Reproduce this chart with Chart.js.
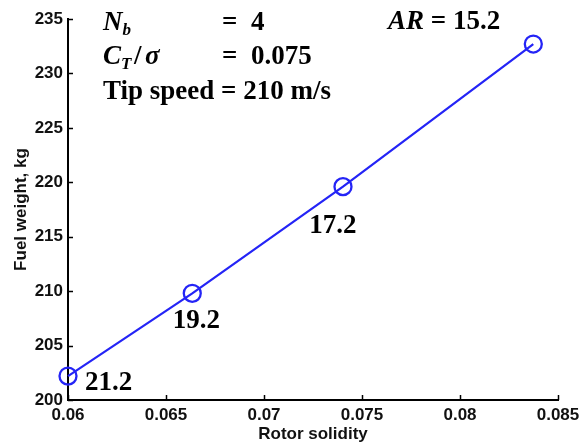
<!DOCTYPE html>
<html>
<head>
<meta charset="utf-8">
<script src="https://cdn.jsdelivr.net/npm/chart.js@4.4.1/dist/chart.umd.min.js"></script>
<style>
  html, body { margin: 0; padding: 0; background: #fff; }
</style>
</head>
<body>
<canvas id="chart" width="581" height="444"></canvas>
<script>
// values
const solidity = [0.06, 0.06634, 0.07403, 0.08374];
const fuelWeight = [202.2, 209.8, 219.6, 232.7];
const aspectRatio = ['21.2', '19.2', '17.2', '15.2'];
const ticksX = [0.06, 0.065, 0.07, 0.075, 0.08, 0.085];
const ticksY = [200, 205, 210, 215, 220, 225, 230, 235];
const numBlades = '4';
const ctSigma = '0.075';
const tipSpeed = '210 m/s';

const sans = '"Liberation Sans", Arial, Helvetica, sans-serif';
const serif = '"Liberation Serif", "Times New Roman", serif';
const blue = '#2424f6';

// inward ticks + text notes
const notes = {
  id: 'notes',
  afterDatasetsDraw(chart) {
    const { ctx, chartArea: a, scales: { x, y } } = chart;
    ctx.save();
    ctx.strokeStyle = '#000';
    ctx.lineWidth = 1.5;
    ctx.beginPath();
    ticksX.forEach(v => {
      const px = Math.round(x.getPixelForValue(v)) + 0.5;
      ctx.moveTo(px, a.bottom);
      ctx.lineTo(px, a.bottom - 5);
    });
    ticksY.forEach(v => {
      const py = Math.round(y.getPixelForValue(v)) + 0.5;
      ctx.moveTo(a.left, py);
      ctx.lineTo(a.left + 5, py);
    });
    ctx.stroke();

    ctx.fillStyle = '#000';
    ctx.textBaseline = 'alphabetic';
    const big = 'bold 27px ' + serif;
    const bigIt = 'italic bold 27px ' + serif;
    const sub = 'italic bold 17px ' + serif;

    // aspect ratio next to each point (last one goes in the header)
    const offs = [[17, 14, 'left'], [4, 35, 'center'], [-10, 46, 'center']];
    ctx.font = big;
    offs.forEach((o, i) => {
      ctx.textAlign = o[2];
      ctx.fillText(aspectRatio[i], x.getPixelForValue(solidity[i]) + o[0], y.getPixelForValue(fuelWeight[i]) + o[1]);
    });

    ctx.textAlign = 'left';
    // N_b
    ctx.font = bigIt;
    ctx.fillText('N', 103, 30);
    let w = ctx.measureText('N').width;
    ctx.font = sub;
    ctx.fillText('b', 103 + w, 35);
    ctx.font = big;
    ctx.fillText('=', 222, 30);
    ctx.fillText(numBlades, 251, 30);

    // C_T / sigma
    ctx.font = bigIt;
    ctx.fillText('C', 103, 64);
    w = ctx.measureText('C').width;
    ctx.font = sub;
    ctx.fillText('T', 103 + w, 69);
    ctx.font = big;
    ctx.fillText('/', 134, 64);
    ctx.font = bigIt;
    ctx.fillText('σ', 145, 64);
    ctx.font = big;
    ctx.fillText('=', 222, 64);
    ctx.fillText(ctSigma, 251, 64);

    // tip speed
    ctx.fillText('Tip speed = ' + tipSpeed, 103, 99);

    // AR of the last point
    ctx.font = bigIt;
    ctx.fillText('AR', 388, 29);
    w = ctx.measureText('AR').width;
    ctx.font = big;
    ctx.fillText(' = ' + aspectRatio[3], 388 + w, 29);
    ctx.restore();
  }
};

const chart = new Chart(document.getElementById('chart'), {
  type: 'scatter',
  data: {
    datasets: [{
      data: solidity.map((s, i) => ({ x: s, y: fuelWeight[i] })),
      showLine: true,
      borderColor: blue,
      borderWidth: 2.2,
      pointRadius: 8.5,
      pointHoverRadius: 8.5,
      pointBorderWidth: 2.3,
      pointBackgroundColor: 'rgba(0,0,0,0)',
      pointBorderColor: blue,
      clip: false
    }]
  },
  options: {
    responsive: false,
    animation: false,
    events: [],
    layout: { padding: { top: 19, right: 23, left: 0, bottom: 0 } },
    plugins: { legend: { display: false }, tooltip: { enabled: false } },
    scales: {
      x: {
        type: 'linear',
        min: 0.06,
        max: 0.085,
        afterBuildTicks: s => { s.ticks = ticksX.map(v => ({ value: v })); },
        afterFit: s => { s.height = 44; s.paddingLeft = 0; s.paddingRight = 0; },
        grid: { drawOnChartArea: false, drawTicks: false },
        border: { display: true, color: '#000', width: 2 },
        ticks: {
          color: '#111',
          padding: 5,
          maxRotation: 0,
          font: { family: sans, size: 17, weight: 'bold' },
          callback: v => String(v)
        },
        title: {
          display: true,
          text: 'Rotor solidity',
          color: '#111',
          font: { family: sans, size: 17, weight: 'bold' },
          padding: { top: 0, bottom: -1 }
        }
      },
      y: {
        min: 200,
        max: 235,
        afterBuildTicks: s => { s.ticks = ticksY.map(v => ({ value: v })); },
        afterFit: s => { s.width = 68; s.paddingTop = 0; s.paddingBottom = 0; },
        grid: { drawOnChartArea: false, drawTicks: false },
        border: { display: true, color: '#000', width: 2 },
        ticks: {
          color: '#111',
          padding: 5,
          font: { family: sans, size: 17, weight: 'bold' },
          callback: v => String(v)
        },
        title: {
          display: true,
          text: 'Fuel weight, kg',
          color: '#111',
          font: { family: sans, size: 17, weight: 'bold' },
          padding: { top: 11, bottom: 0 }
        }
      }
    }
  },
  plugins: [notes]
});
</script>
</body>
</html>
